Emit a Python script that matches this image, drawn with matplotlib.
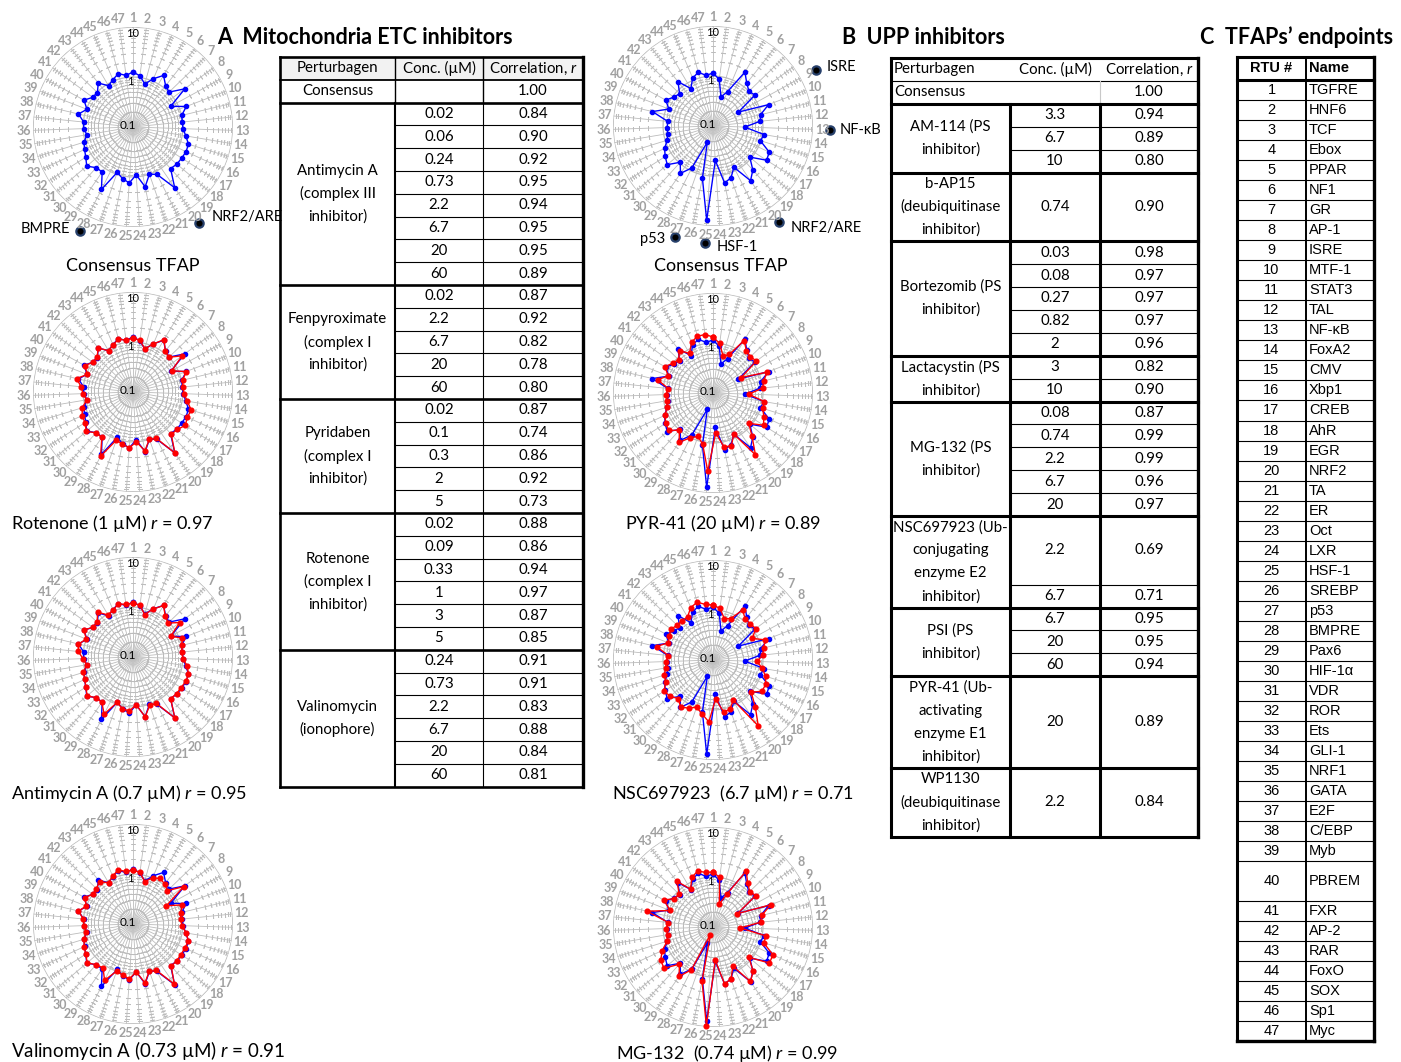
import matplotlib.pyplot as plt
import numpy as np
from matplotlib.patches import Rectangle

plt.rcParams['font.family'] = ['Lato', 'DejaVu Sans']
plt.rcParams['mathtext.fontset'] = 'custom'
plt.rcParams['mathtext.rm'] = 'Lato'
plt.rcParams['mathtext.it'] = 'Lato:italic'

W, H = 1401, 1062

# ---- TFAP endpoints (RTU #1..47) ----
tf_names = ['TGFRE', 'HNF6', 'TCF', 'Ebox', 'PPAR', 'NF1', 'GR', 'AP-1', 'ISRE',
            'MTF-1', 'STAT3', 'TAL', 'NF-κB', 'FoxA2', 'CMV', 'Xbp1', 'CREB', 'AhR',
            'EGR', 'NRF2', 'TA', 'ER', 'Oct', 'LXR', 'HSF-1', 'SREBP', 'p53', 'BMPRE',
            'Pax6', 'HIF-1α', 'VDR', 'ROR', 'Ets', 'GLI-1', 'NRF1', 'GATA', 'E2F',
            'C/EBP', 'Myb', 'PBREM', 'FXR', 'AP-2', 'RAR', 'FoxO', 'SOX', 'Sp1', 'Myc']
tf_rows = [1] * 39 + [2] + [1] * 7

# ---- fold-induction profiles ----
consensus_etc = [1.26, 1.08, 0.78, 1.12, 1.58, 1.13, 1.01, 1.94, 0.72, 1.39, 1.00, 0.98,
                 1.00, 1.18, 1.45, 1.48, 1.43, 1.41, 1.32, 2.98, 1.15, 1.00, 1.66, 0.91,
                 1.32, 1.13, 0.91, 2.51, 1.23, 1.25, 1.63, 1.32, 1.17, 1.06, 0.86, 0.97,
                 0.98, 1.32, 0.97, 1.31, 1.00, 0.98, 1.32, 0.91, 1.07, 1.28, 1.10]
rotenone_1 = [1.20, 1.10, 0.79, 1.10, 1.66, 1.10, 1.00, 1.66, 0.76, 1.38, 1.05, 1.00,
              1.05, 1.26, 1.66, 1.58, 1.74, 1.45, 1.38, 3.02, 1.10, 1.00, 1.58, 1.00,
              1.32, 1.15, 1.05, 2.75, 1.26, 1.26, 1.66, 1.38, 1.32, 1.15, 0.87, 1.00,
              1.10, 1.45, 0.95, 1.26, 1.00, 1.00, 1.32, 0.91, 1.05, 1.26, 1.10]
antimycin_07 = [1.20, 1.10, 0.76, 1.10, 1.58, 1.10, 0.95, 1.45, 0.72, 1.15, 1.00, 0.95,
                1.00, 1.26, 1.45, 1.45, 1.38, 1.38, 1.32, 3.02, 1.10, 1.05, 1.66, 0.91,
                1.20, 1.15, 0.91, 1.91, 1.26, 1.26, 1.58, 1.32, 1.15, 1.10, 0.87, 1.00,
                1.26, 1.32, 1.00, 1.32, 1.00, 1.00, 1.38, 0.95, 1.05, 1.26, 1.15]
valinomycin_073 = [1.20, 1.10, 0.76, 1.00, 1.15, 1.05, 0.91, 1.82, 0.58, 1.15, 0.95, 0.91,
                   0.95, 1.20, 1.45, 1.38, 1.38, 1.38, 1.38, 2.88, 1.10, 1.00, 1.58, 0.91,
                   1.26, 1.10, 1.00, 1.82, 1.15, 1.26, 1.58, 1.32, 1.20, 1.05, 0.91, 0.95,
                   1.00, 1.32, 1.00, 1.26, 1.00, 1.05, 1.20, 0.91, 1.10, 1.32, 1.15]
consensus_upp = [1.15, 0.87, 0.40, 0.56, 1.79, 1.23, 1.00, 1.10, 0.38, 1.55, 0.95, 0.89,
                 0.43, 1.10, 0.98, 1.74, 1.87, 0.92, 1.54, 2.12, 0.84, 1.25, 1.45, 0.49,
                 7.76, 1.16, 0.22, 0.87, 1.41, 0.95, 1.58, 1.36, 1.17, 0.91, 0.83, 0.83,
                 0.81, 1.76, 0.88, 1.20, 0.94, 0.85, 1.35, 0.74, 1.10, 1.30, 1.05]
pyr41_20 = [1.32, 1.00, 0.58, 0.69, 1.66, 1.20, 1.10, 1.20, 0.44, 1.45, 1.10, 1.00,
            0.52, 1.10, 1.10, 1.32, 1.58, 0.87, 1.45, 3.16, 0.83, 1.32, 1.26, 0.63,
            3.72, 1.10, 0.83, 1.00, 1.58, 1.00, 1.45, 1.32, 1.15, 0.91, 0.87, 0.87,
            0.79, 1.38, 0.91, 1.26, 1.00, 0.91, 1.20, 0.83, 1.26, 1.51, 1.51]
nsc697923_67 = [1.26, 1.10, 0.72, 0.79, 1.45, 1.10, 1.10, 1.15, 0.79, 1.32, 1.10, 1.00,
                0.76, 1.00, 1.26, 1.45, 1.45, 1.00, 1.82, 3.98, 0.79, 1.10, 1.15, 0.60,
                1.74, 1.26, 1.00, 1.20, 1.38, 1.10, 1.32, 1.45, 1.10, 1.05, 0.91, 0.87,
                0.79, 1.45, 0.91, 1.00, 1.10, 1.00, 1.00, 1.00, 1.38, 1.58, 1.32]
mg132_074 = [1.26, 1.00, 0.30, 0.52, 2.00, 1.32, 1.05, 1.15, 0.36, 1.74, 1.00, 0.91,
             0.35, 1.20, 1.15, 2.09, 2.19, 0.87, 1.58, 2.09, 0.76, 1.26, 1.45, 0.46,
             9.60, 1.26, 0.145, 0.91, 1.58, 1.00, 1.91, 1.74, 1.32, 0.91, 0.83, 0.87,
             0.79, 2.29, 0.83, 1.32, 0.91, 0.87, 1.45, 0.76, 1.20, 1.45, 1.26]

# ---- table A: mitochondria ETC inhibitors ----
etc_names = [['Antimycin A', '(complex III', 'inhibitor)'],
             ['Fenpyroximate', '(complex I', 'inhibitor)'],
             ['Pyridaben', '(complex I', 'inhibitor)'],
             ['Rotenone', '(complex I', 'inhibitor)'],
             ['Valinomycin', '(ionophore)']]
etc_conc = [['0.02', '0.06', '0.24', '0.73', '2.2', '6.7', '20', '60'],
            ['0.02', '2.2', '6.7', '20', '60'],
            ['0.02', '0.1', '0.3', '2', '5'],
            ['0.02', '0.09', '0.33', '1', '3', '5'],
            ['0.24', '0.73', '2.2', '6.7', '20', '60']]
etc_corr = [[0.84, 0.90, 0.92, 0.95, 0.94, 0.95, 0.95, 0.89],
            [0.87, 0.92, 0.82, 0.78, 0.80],
            [0.87, 0.74, 0.86, 0.92, 0.73],
            [0.88, 0.86, 0.94, 0.97, 0.87, 0.85],
            [0.91, 0.91, 0.83, 0.88, 0.84, 0.81]]

# ---- table B: UPP inhibitors ----
upp_names = [['AM-114 (PS', 'inhibitor)'],
             ['b-AP15', '(deubiquitinase', 'inhibitor)'],
             ['Bortezomib (PS', 'inhibitor)'],
             ['Lactacystin (PS', 'inhibitor)'],
             ['MG-132 (PS', 'inhibitor)'],
             ['NSC697923 (Ub-', 'conjugating', 'enzyme E2', 'inhibitor)'],
             ['PSI (PS', 'inhibitor)'],
             ['PYR-41 (Ub-', 'activating', 'enzyme E1', 'inhibitor)'],
             ['WP1130', '(deubiquitinase', 'inhibitor)']]
upp_conc = [['3.3', '6.7', '10'], ['0.74'], ['0.03', '0.08', '0.27', '0.82', '2'],
            ['3', '10'], ['0.08', '0.74', '2.2', '6.7', '20'], ['2.2', '6.7'],
            ['6.7', '20', '60'], ['20'], ['2.2']]
upp_corr = [[0.94, 0.89, 0.80], [0.90], [0.98, 0.97, 0.97, 0.97, 0.96], [0.82, 0.90],
            [0.87, 0.99, 0.99, 0.96, 0.97], [0.69, 0.71], [0.95, 0.95, 0.94], [0.89], [0.84]]
upp_rows = [[1, 1, 1], [3], [1] * 5, [1, 1], [1] * 5, [3, 1], [1, 1, 1], [4], [3]]

fig = plt.figure(figsize=(W / 100, H / 100), dpi=100)
ax0 = fig.add_axes([0, 0, 1, 1])
ax0.set_xlim(0, W)
ax0.set_ylim(H, 0)
ax0.axis('off')

theta = np.arange(47) * 2 * np.pi / 47
theta_closed = np.append(theta, theta[0])
minor_r = [0.2, 0.3, 0.4, 0.5, 0.6, 0.7, 0.8, 0.9, 2, 3, 4, 5, 6, 7, 8, 9]
GRID = '#bcbcbc'


def radar(cx, cy, profiles, marks=()):
    R = 100
    ax = fig.add_axes([(cx - R) / W, 1 - (cy + R) / H, 2 * R / W, 2 * R / H],
                      projection='polar')
    ax.set_theta_zero_location('N')
    ax.set_theta_direction(-1)
    ax.set_rscale('log')
    ax.set_rlim(0.1, 10)
    ax.grid(False)
    ax.set_xticks([])
    ax.set_yticks([])
    ax.spines['polar'].set_visible(False)
    ax.patch.set_visible(False)
    for rv in (1, 10):
        ax.plot(theta_closed, np.full(48, rv), color=GRID, lw=0.9)
    for i, t in enumerate(theta):
        ax.plot([t, t], [0.1, 10], color=GRID, lw=0.6)
        ax.plot(np.full(len(minor_r), t), minor_r, ls='none', color=GRID,
                marker=(2, 2, 90 - np.degrees(t)), ms=3.2, mew=0.6)
        ax.text(t, 15.2, str(i + 1), ha='center', va='center', color='#a0a0a0',
                fontsize=9, fontweight='bold')
    ax.annotate('10', (0, 10), xytext=(0, -5), textcoords='offset points',
                ha='center', va='center', fontsize=8)
    ax.annotate('1', (0, 1), xytext=(-2, -3), textcoords='offset points',
                ha='center', va='center', fontsize=8)
    ax.annotate('0.1', (0, 0.1), xytext=(-4, 1), textcoords='offset points',
                ha='center', va='center', fontsize=8.5)
    for vals, col, ms in profiles:
        ax.plot(theta_closed, np.append(vals, vals[0]), color=col, lw=1.0,
                marker='o', ms=ms, clip_on=False)
    for k, label, dx, dy, ha in marks:
        ax.plot(theta[k - 1], 21.9, 'o', ms=6, mfc='black', mec='#27406b',
                mew=1.6, clip_on=False)
        ax.annotate(label, (theta[k - 1], 21.9), xytext=(dx, dy),
                    textcoords='offset points', ha=ha, va='center', fontsize=10.5,
                    annotation_clip=False)
    return ax


BLUE, RED = '#0000ff', '#ff0000'
MB, MR = 3.0, 3.4

# column A radars
radar(133, 127, [(consensus_etc, BLUE, MB)],
      marks=[(20, 'NRF2/ARE', 9, 5, 'left'), (28, 'BMPRE', -7, 2, 'right')])
radar(133, 392, [(consensus_etc, BLUE, MB), (rotenone_1, RED, MR)])
radar(133, 657, [(consensus_etc, BLUE, MB), (antimycin_07, RED, MR)])
radar(133, 924, [(consensus_etc, BLUE, MB), (valinomycin_073, RED, MR)])
# column B radars
radar(713, 126, [(consensus_upp, BLUE, MB)],
      marks=[(9, 'ISRE', 8, 2, 'left'), (13, 'NF-κB', 7, 0, 'left'),
             (20, 'NRF2/ARE', 8, -4, 'left'), (27, 'p53', -7, -2, 'right'),
             (25, 'HSF-1', 8, -3, 'left')])
radar(713, 393, [(consensus_upp, BLUE, MB), (pyr41_20, RED, MR)])
radar(713, 660, [(consensus_upp, BLUE, MB), (nsc697923_67, RED, MR)])
radar(713, 927, [(consensus_upp, BLUE, MB), (mg132_074, RED, MR)])

CAP = 13
ax0.text(133, 266, 'Consensus TFAP', ha='center', va='center', fontsize=CAP)
ax0.text(11, 524, 'Rotenone (1 µM) $r$ = 0.97', va='center', fontsize=CAP)
ax0.text(11, 793, 'Antimycin A (0.7 µM) $r$ = 0.95', va='center', fontsize=CAP)
ax0.text(11, 1051, 'Valinomycin A (0.73 µM) $r$ = 0.91', va='center', fontsize=13.5)
ax0.text(721, 266, 'Consensus TFAP', ha='center', va='center', fontsize=CAP)
ax0.text(625, 524, 'PYR-41 (20 µM) $r$ = 0.89', va='center', fontsize=CAP)
ax0.text(612, 793, 'NSC697923  (6.7 µM) $r$ = 0.71', va='center', fontsize=CAP)
ax0.text(616, 1053, 'MG-132  (0.74 µM) $r$ = 0.99', va='center', fontsize=CAP)

TTL = 15.5
ax0.text(217, 37, 'A  Mitochondria ETC inhibitors', va='center', fontsize=TTL,
         fontweight='bold')
ax0.text(842, 37, 'B  UPP inhibitors', va='center', fontsize=TTL, fontweight='bold')
ax0.text(1200, 37, 'C  TFAPs’ endpoints', va='center', fontsize=TTL, fontweight='bold')


def hline(y, x0, x1, lw=0.8):
    ax0.plot([x0, x1], [y, y], color='black', lw=lw, solid_capstyle='projecting')


def vline(x, y0, y1, lw=0.8):
    ax0.plot([x, x], [y0, y1], color='black', lw=lw, solid_capstyle='projecting')


FS = 10.8
THICK = 1.9

# ---- table A ----
xa = [280, 395, 483, 583]
top, rh = 57, 22.8
ax0.add_patch(Rectangle((xa[0], top), xa[3] - xa[0], rh, color='#f2f2f2', lw=0))
for x, s in zip([(xa[0] + xa[1]) / 2, (xa[1] + xa[2]) / 2, (xa[2] + xa[3]) / 2],
                ['Perturbagen', 'Conc. (µM)', 'Correlation, $r$']):
    ax0.text(x, top + rh / 2, s, ha='center', va='center', fontsize=FS)
ax0.text((xa[0] + xa[1]) / 2, top + 1.5 * rh, 'Consensus', ha='center', va='center',
         fontsize=FS)
ax0.text((xa[2] + xa[3]) / 2, top + 1.5 * rh, '1.00', ha='center', va='center',
         fontsize=FS)
hline(top + rh, xa[0], xa[3], 1.3)
vline(xa[1], top, top + 2 * rh, 1.0)
vline(xa[2], top, top + 2 * rh, 1.0)
row = 2
for names, concs, corrs in zip(etc_names, etc_conc, etc_corr):
    g0 = top + row * rh
    n = len(concs)
    hline(g0, xa[0], xa[3], THICK)
    for j, (c, r) in enumerate(zip(concs, corrs)):
        yc = g0 + (j + 0.5) * rh
        ax0.text((xa[1] + xa[2]) / 2, yc, c, ha='center', va='center', fontsize=FS)
        ax0.text((xa[2] + xa[3]) / 2, yc, f'{r:.2f}', ha='center', va='center',
                 fontsize=FS)
        if j:
            hline(g0 + j * rh, xa[1], xa[3], 0.8)
    gc = g0 + n * rh / 2
    for k, s in enumerate(names):
        ax0.text((xa[0] + xa[1]) / 2, gc + (k - (len(names) - 1) / 2) * rh, s,
                 ha='center', va='center', fontsize=FS)
    vline(xa[1], g0, g0 + n * rh, 1.5)
    vline(xa[2], g0, g0 + n * rh, 0.8)
    row += n
bottom = top + row * rh
hline(top, xa[0], xa[3], THICK)
hline(bottom, xa[0], xa[3], THICK)
vline(xa[0], top, bottom, THICK)
vline(xa[3], top, bottom, 2.4)

# ---- table B ----
xb = [891, 1010, 1100, 1198]
top, rh = 58, 22.9
ax0.text(xb[0] + 3, top + rh / 2, 'Perturbagen', va='center', fontsize=FS)
ax0.text((xb[1] + xb[2]) / 2, top + rh / 2, 'Conc. (µM)', ha='center', va='center',
         fontsize=FS)
ax0.text((xb[2] + xb[3]) / 2, top + rh / 2, 'Correlation, $r$', ha='center',
         va='center', fontsize=FS)
ax0.text(xb[0] + 3, top + 1.5 * rh, 'Consensus', va='center', fontsize=FS)
ax0.text((xb[2] + xb[3]) / 2, top + 1.5 * rh, '1.00', ha='center', va='center',
         fontsize=FS)
hline(top + rh, xb[0], xb[3], 0.8)
ax0.plot([xb[2], xb[2]], [top + rh, top + 2 * rh], color='#c8c8c8', lw=0.8)
row = 2
for names, concs, corrs, spans in zip(upp_names, upp_conc, upp_corr, upp_rows):
    g0 = top + row * rh
    n = sum(spans)
    hline(g0, xb[0], xb[3], 2.2)
    acc = 0
    for j, (c, r, s) in enumerate(zip(concs, corrs, spans)):
        yc = g0 + (acc + s / 2) * rh
        ax0.text((xb[1] + xb[2]) / 2, yc, c, ha='center', va='center', fontsize=FS)
        ax0.text((xb[2] + xb[3]) / 2, yc, f'{r:.2f}', ha='center', va='center',
                 fontsize=FS)
        if j:
            hline(g0 + acc * rh, xb[1], xb[3], 0.8)
        acc += s
    gc = g0 + n * rh / 2
    for k, s in enumerate(names):
        ax0.text((xb[0] + xb[1]) / 2, gc + (k - (len(names) - 1) / 2) * rh, s,
                 ha='center', va='center', fontsize=FS)
    row += n
bottom = top + row * rh
vline(xb[1], top + 2 * rh, bottom, 2.2)
vline(xb[2], top + 2 * rh, bottom, 2.2)
hline(top, xb[0], xb[3], 2.2)
hline(bottom, xb[0], xb[3], 2.2)
vline(xb[0], top, bottom, 2.2)
vline(xb[3], top, bottom, 2.4)

# ---- table C ----
xc = [1237, 1306, 1374]
top, hh, rh = 57, 23, 20.03
FC = ['Liberation Sans', 'DejaVu Sans']
ax0.text((xc[0] + xc[1]) / 2, top + hh / 2, 'RTU #', ha='center', va='center',
         fontsize=10.5, fontweight='bold', family=FC)
ax0.text(xc[1] + 3, top + hh / 2, 'Name', va='center', fontsize=10.5,
         fontweight='bold', family=FC)
y = top + hh
for i, (name, span) in enumerate(zip(tf_names, tf_rows)):
    yc = y + span * rh / 2
    ax0.text((xc[0] + xc[1]) / 2, yc, str(i + 1), ha='center', va='center',
             fontsize=10.5, family=FC)
    ax0.text(xc[1] + 3, yc, name, va='center', fontsize=10.5, family=FC)
    if i:
        hline(y, xc[0], xc[2], 0.8)
    y += span * rh
hline(top + hh, xc[0], xc[2], 2.2)
hline(top, xc[0], xc[2], 2.2)
hline(y, xc[0], xc[2], 2.4)
vline(xc[0], top, y, 2.2)
vline(xc[2], top, y, 2.4)
vline(xc[1], top, y, 1.4)

fig.savefig('out.png', dpi=100)
